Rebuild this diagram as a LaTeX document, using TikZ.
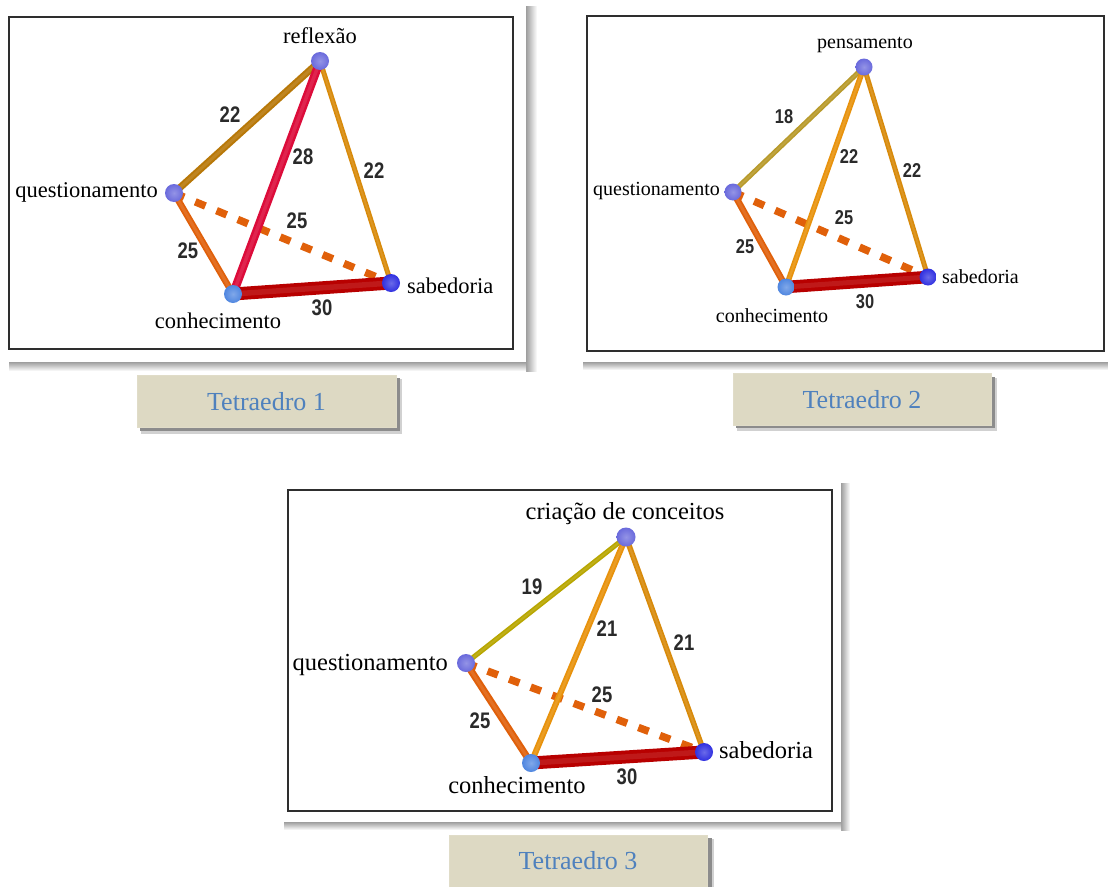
\documentclass[tikz,border=0pt]{standalone}
\usepackage{fontspec}
\usepackage{graphicx}
\setmainfont{Liberation Serif}
\newfontfamily\lblsans{Liberation Sans}

\definecolor{frameline}{HTML}{2E2E2E}
\definecolor{numgray}{HTML}{2A2A2A}
\definecolor{captan}{HTML}{DDD9C3}
\definecolor{capblue}{HTML}{4F81BD}
\definecolor{edgebrown}{HTML}{B87808}
\definecolor{edgecrimson}{HTML}{DC0C3A}
\definecolor{edgeamber}{HTML}{D88A0A}
\definecolor{edgeorange}{HTML}{E8920C}
\definecolor{edgerust}{HTML}{E0600A}
\definecolor{edgered}{HTML}{B80000}
\definecolor{edgegold}{HTML}{B89A2A}
\definecolor{edgeolive}{HTML}{B8A600}
\definecolor{balllav}{HTML}{6A6ADC}
\definecolor{ballsky}{HTML}{4F86E0}
\definecolor{balldeep}{HTML}{3030E0}

\tikzset{
  tube/.style n args={3}{line width=#1, draw=#2, line cap=butt,
    postaction={draw=#2!90!white, line width=#3}},
  hidden/.style={line width=7.5pt, draw=edgerust, line cap=butt,
    dash pattern=on 11pt off 12pt},
  ballnode/.style 2 args={circle, inner sep=0pt, minimum size=#1,
    shading=radial, inner color=#2!72!white, outer color=#2},
  term/.style={inner sep=0pt, text=black, font=\fontsize{#1}{#1}\selectfont},
  weight/.style={inner sep=0pt, text=numgray, font=\lblsans\bfseries\fontsize{#1}{#1}\selectfont},
  panelframe/.style={draw=frameline, line width=1.5pt, fill=white},
  caption/.style={fill=captan, draw=captan!92!white, line width=0.8pt,
    minimum width=#1, minimum height=52pt, inner sep=0pt,
    text=capblue, font=\fontsize{26}{26}\selectfont},
}

\newcommand{\squeeze}[1]{\scalebox{0.82}[1]{#1}}

\begin{document}
\begin{tikzpicture}[x=1pt,y=-1pt]
\useasboundingbox (0,0) rectangle (1108,886);

% ---------- card shadows ----------
\shade[left color=black!38, right color=white] (526,6) rectangle (537,371);
\shade[top color=black!38, bottom color=white] (9,362) rectangle (526,371);

\shade[top color=black!38, bottom color=white] (583,362) rectangle (1108,370);

\shade[left color=black!38, right color=white] (841,483) rectangle (850,830);
\shade[top color=black!38, bottom color=white] (284,822) rectangle (841,830);

% ---------- frames ----------
\draw[panelframe] (9,17) rectangle (513,349);
\draw[panelframe] (587,16) rectangle (1104,351);
\draw[panelframe] (288,490) rectangle (832,811);

% =================== Tetraedro 1 ===================
\coordinate (r1) at (320,61);
\coordinate (q1) at (174,193);
\coordinate (c1) at (233,294);
\coordinate (s1) at (391,283);

\draw[hidden] (q1) -- (s1);
\draw[tube={7pt}{edgebrown}{3pt}] (r1) -- (q1);
\draw[tube={5pt}{edgeamber}{2pt}] (r1) -- (s1);
\draw[tube={6.5pt}{edgerust}{3pt}] (q1) -- (c1);
\draw[tube={8.5pt}{edgecrimson}{3.5pt}] (r1) -- (c1);
\draw[tube={13pt}{edgered}{5.5pt}] (c1) -- (s1);

\node[ballnode={18pt}{balllav}] (R1) at (r1) {};
\node[ballnode={18pt}{balllav}] (Q1) at (q1) {};
\node[ballnode={18pt}{ballsky}] (C1) at (c1) {};
\node[ballnode={18pt}{balldeep}] (S1) at (s1) {};

\node[term=22.5, anchor=base] (tr1) at (320,43) {reflexão};
\node[term=22.5, anchor=base east] (tq1) at (158,197) {questionamento};
\node[term=22.5, anchor=base] (tc1) at (218,328) {conhecimento};
\node[term=22.5, anchor=base west] (ts1) at (407,293) {sabedoria};

\node[weight=22.5] (w1rq) at (230,115) {\squeeze{22}};
\node[weight=22.5] (w1rc) at (303,157) {\squeeze{28}};
\node[weight=22.5] (w1rs) at (374,171) {\squeeze{22}};
\node[weight=22.5] (w1qs) at (297,221) {\squeeze{25}};
\node[weight=22.5] (w1qc) at (188,251) {\squeeze{25}};
\node[weight=22.5] (w1cs) at (322,308) {\squeeze{30}};

% =================== Tetraedro 2 ===================
\coordinate (p2) at (864,67);
\coordinate (q2) at (733,192);
\coordinate (c2) at (786,287);
\coordinate (s2) at (928,277);

\draw[hidden] (q2) -- (s2);
\draw[tube={5pt}{edgegold}{2pt}] (p2) -- (q2);
\draw[tube={5pt}{edgeamber}{2pt}] (p2) -- (s2);
\draw[tube={6.5pt}{edgerust}{3pt}] (q2) -- (c2);
\draw[tube={5.5pt}{edgeorange}{2.3pt}] (p2) -- (c2);
\draw[tube={12.5pt}{edgered}{5pt}] (c2) -- (s2);

\node[ballnode={17pt}{balllav}] (P2) at (p2) {};
\node[ballnode={17pt}{balllav}] (Q2) at (q2) {};
\node[ballnode={17pt}{ballsky}] (C2) at (c2) {};
\node[ballnode={17pt}{balldeep}] (S2) at (s2) {};

\node[term=20, anchor=base] (tp2) at (865,48) {pensamento};
\node[term=20, anchor=base east] (tq2) at (720,195) {questionamento};
\node[term=20, anchor=base] (tc2) at (772,322) {conhecimento};
\node[term=20, anchor=base west] (ts2) at (942,283) {sabedoria};

\node[weight=20] (w2pq) at (784,117) {\squeeze{18}};
\node[weight=20] (w2pc) at (849,157) {\squeeze{22}};
\node[weight=20] (w2ps) at (912,171) {\squeeze{22}};
\node[weight=20] (w2qs) at (844,218) {\squeeze{25}};
\node[weight=20] (w2qc) at (745,247) {\squeeze{25}};
\node[weight=20] (w2cs) at (865,302) {\squeeze{30}};

% =================== Tetraedro 3 ===================
\coordinate (k3) at (626,537);
\coordinate (q3) at (466,663);
\coordinate (c3) at (531,763);
\coordinate (s3) at (704,752);

\draw[hidden] (q3) -- (s3);
\draw[tube={5pt}{edgeolive}{2pt}] (k3) -- (q3);
\draw[tube={5.5pt}{edgeamber}{2.3pt}] (k3) -- (s3);
\draw[tube={7pt}{edgerust}{3pt}] (q3) -- (c3);
\draw[tube={6pt}{edgeorange}{2.5pt}] (k3) -- (c3);
\draw[tube={13pt}{edgered}{5.5pt}] (c3) -- (s3);

\node[ballnode={19pt}{balllav}] (K3) at (k3) {};
\node[ballnode={18pt}{balllav}] (Q3) at (q3) {};
\node[ballnode={18pt}{ballsky}] (C3) at (c3) {};
\node[ballnode={18pt}{balldeep}] (S3) at (s3) {};

\node[term=24.5, anchor=base] (tk3) at (625,519) {criação de conceitos};
\node[term=24.5, anchor=base east] (tq3) at (448,670) {questionamento};
\node[term=24.5, anchor=base] (tc3) at (517,793) {conhecimento};
\node[term=24.5, anchor=base west] (ts3) at (719,758) {sabedoria};

\node[weight=22.5] (w3kq) at (532,587) {\squeeze{19}};
\node[weight=22.5] (w3kc) at (607,629) {\squeeze{21}};
\node[weight=22.5] (w3ks) at (684,643) {\squeeze{21}};
\node[weight=22.5] (w3qs) at (602,695) {\squeeze{25}};
\node[weight=22.5] (w3qc) at (480,721) {\squeeze{25}};
\node[weight=22.5] (w3cs) at (627,777) {\squeeze{30}};

% ---------- captions ----------
\fill[black!18] (141,379) rectangle (402,434);
\fill[black!45] (140,378) rectangle (400,431);
\node[caption=259pt] (cap1) at (266.5,401.5) {Tetraedro 1};

\fill[black!18] (737,378) rectangle (997,431);
\fill[black!45] (736,377) rectangle (995,428);
\node[caption=258pt] (cap2) at (862,399.5) {Tetraedro 2};

\fill[black!18] (453,839) rectangle (714,892);
\fill[black!45] (452,838) rectangle (712,892);
\node[caption=258pt] (cap3) at (578,861) {Tetraedro 3};

\end{tikzpicture}
\end{document}
